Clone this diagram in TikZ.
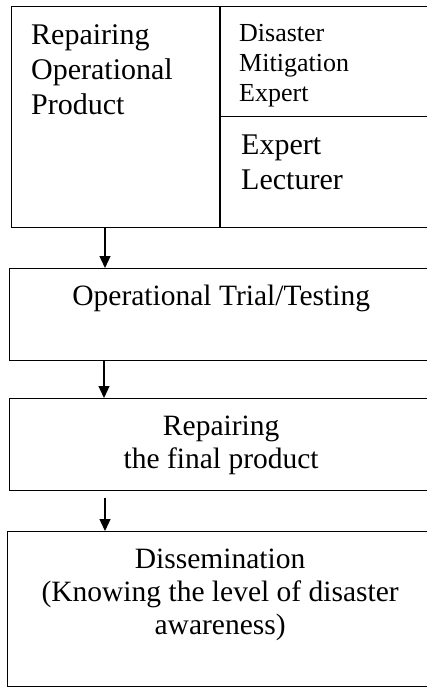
\documentclass[tikz,border=0pt]{standalone}
\usepackage{fontspec}
\setmainfont{Liberation Serif}
\usetikzlibrary{arrows.meta}
\usetikzlibrary{positioning}

\begin{document}
\begin{tikzpicture}[x=1pt, y=-1pt, every node/.style={inner sep=0pt}, stage/.style={draw, rectangle, line width=1.3pt, anchor=north west}, big/.style={font=\fontsize{30}{35}\selectfont, align=left, anchor=north west}, mid/.style={font=\fontsize{29.5}{33}\selectfont, align=center, anchor=north}, small/.style={font=\fontsize{26}{30}\selectfont, align=left, anchor=north west}, arr/.style={-{Triangle[length=12pt,width=11pt]}, line width=1.3pt}]
  \useasboundingbox (0,0) rectangle (427,687);
  % top block
  \node[stage, minimum width=208, minimum height=221] (prod) at (11,6) {};
  \node[stage, minimum width=213, minimum height=110] (mitig) at (219,6) {};
  \node[stage, minimum width=213, minimum height=111] (lect) at (219,116) {};
  \draw[line width=2pt] (prod.north east) -- (prod.south east);
  \node[big] (prodtxt) at ([xshift=20pt,yshift=-18pt]prod.north west) {Repairing\\Operational\\Product};
  \node[small] (mitigtxt) at ([xshift=20pt,yshift=-18pt]mitig.north west) {Disaster\\Mitigation\\Expert};
  \node[big] (lecttxt) at ([xshift=22pt,yshift=-19pt]lect.north west) {Expert\\Lecturer};
  % stages
  \node[stage, minimum width=423, minimum height=92] (trial) at (9,268) {};
  \node[mid] (trialtxt) at ([yshift=-17pt]trial.north) {Operational Trial/Testing};
  \node[stage, minimum width=423, minimum height=92] (final) at (9,398) {};
  \node[mid] (finaltxt) at ([yshift=-18pt]final.north) {Repairing\\the final product};
  \node[stage, minimum width=425, minimum height=155] (dissem) at (7,531) {};
  \node[mid] (dissemtxt) at ([yshift=-18pt]dissem.north) {Dissemination\\(Knowing the level of disaster\\awareness)};
  % arrows
  \draw[arr] ([xshift=94pt]prod.south west) -- ([xshift=96pt]trial.north west);
  \draw[arr] ([xshift=95pt]trial.south west) -- ([xshift=95pt]final.north west);
  \draw[arr] ([xshift=96pt,yshift=-7pt]final.south west) -- ([xshift=98pt]dissem.north west);
\end{tikzpicture}
\end{document}
